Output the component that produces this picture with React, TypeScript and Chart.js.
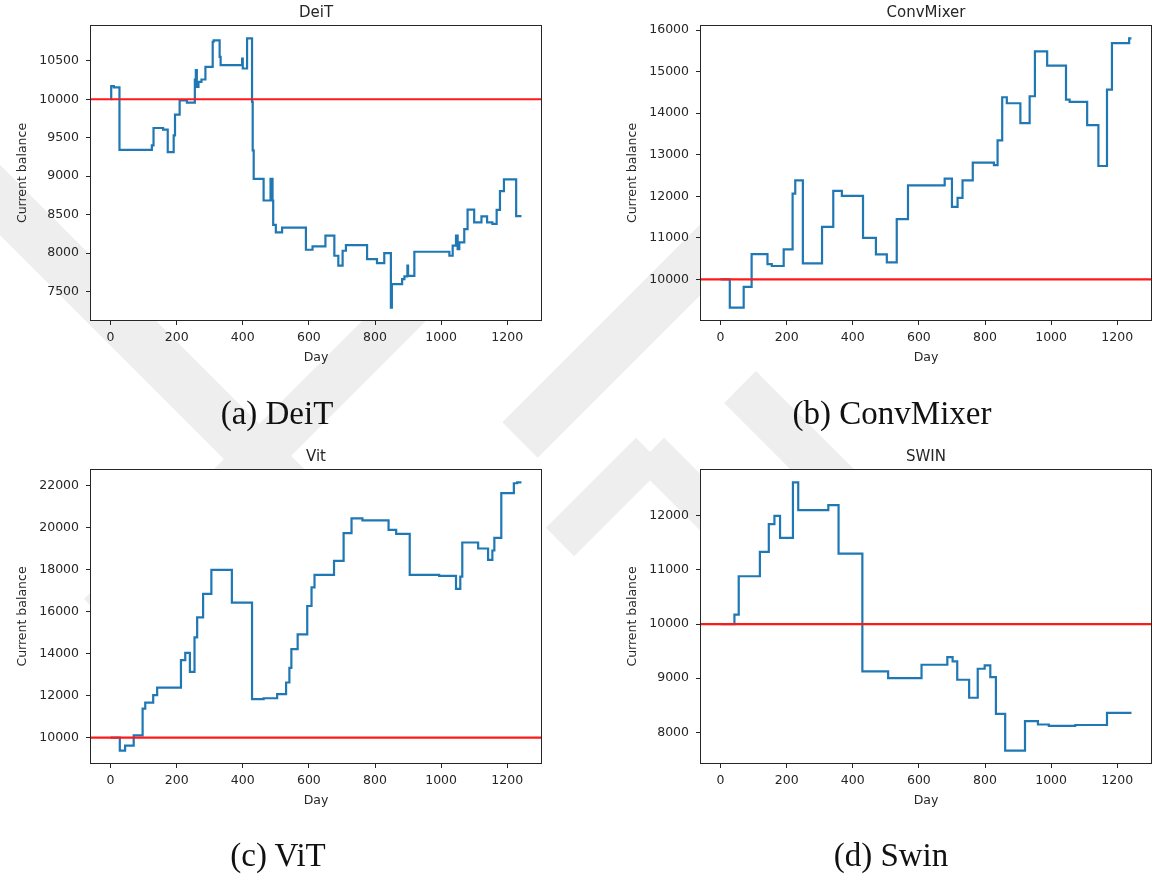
import React, { useEffect, useRef } from "react";
import { Chart, registerables } from "chart.js";

Chart.register(...registerables);

// ---------------- data ----------------
const dayTicks = [0, 200, 400, 600, 800, 1000, 1200];
const startBalance = 10000;

const deitDays = [0, 2, 10, 27, 125, 130, 159, 173, 191, 195, 209, 231, 255, 258, 261, 266, 275, 287, 309, 312, 330, 333, 398, 400, 413, 428, 430, 433, 463, 484, 486, 488, 490, 492, 500, 519, 591, 611, 650, 677, 689, 702, 712, 776, 806, 828, 848, 851, 882, 889, 898, 900, 919, 1025, 1035, 1045, 1050, 1055, 1070, 1080, 1100, 1122, 1139, 1155, 1168, 1178, 1190, 1227, 1243];
const deitBalance = [10000, 10170, 10155, 9343, 9400, 9626, 9604, 9313, 9530, 9800, 9985, 9957, 10257, 10378, 10161, 10226, 10257, 10422, 10748, 10765, 10552, 10443, 10530, 10400, 10791, 9965, 9335, 8965, 8683, 8965, 8683, 8965, 8683, 8365, 8270, 8330, 8043, 8087, 8226, 7965, 7835, 8030, 8104, 7922, 7870, 8000, 7291, 7596, 7661, 7696, 7835, 7704, 8017, 7965, 8096, 8226, 8052, 8139, 8310, 8565, 8400, 8478, 8400, 8378, 8561, 8804, 8957, 8480, 8480];
const deitTicks = [7500, 8000, 8500, 9000, 9500, 10000, 10500];

const convDays = [0, 28, 70, 94, 142, 155, 191, 218, 226, 249, 307, 341, 367, 431, 470, 503, 533, 567, 678, 700, 717, 732, 763, 827, 838, 852, 866, 907, 935, 951, 988, 1045, 1056, 1109, 1143, 1169, 1184, 1236, 1243];
const convBalance = [10000, 9320, 9820, 10608, 10368, 10320, 10720, 12064, 12384, 10384, 11264, 12128, 12008, 11000, 10600, 10408, 11448, 12264, 12424, 11744, 11960, 12384, 12808, 12750, 13344, 14384, 14240, 13760, 14408, 15488, 15144, 14328, 14272, 13712, 12728, 14568, 15688, 15800, 15800];
const convTicks = [10000, 11000, 12000, 13000, 14000, 15000, 16000];

const vitDays = [0, 28, 44, 70, 97, 105, 129, 141, 213, 226, 240, 254, 262, 280, 305, 367, 428, 463, 504, 531, 541, 547, 566, 595, 608, 617, 676, 705, 729, 762, 841, 864, 905, 994, 1045, 1058, 1064, 1112, 1142, 1155, 1161, 1182, 1220, 1230, 1243];
const vitBalance = [10000, 9380, 9614, 10107, 11379, 11665, 12015, 12380, 13684, 14034, 13128, 14766, 15720, 16833, 17977, 16419, 11830, 11870, 12062, 12619, 13318, 14209, 14909, 16260, 17150, 17739, 18407, 19726, 20426, 20330, 19885, 19694, 17739, 17691, 17071, 17659, 19281, 18995, 18454, 18900, 19504, 21634, 22100, 22140, 22140];
const vitTicks = [10000, 12000, 14000, 16000, 18000, 20000, 22000];

const swinDays = [0, 42, 55, 119, 146, 163, 180, 219, 235, 326, 357, 429, 507, 608, 686, 702, 716, 752, 778, 799, 816, 833, 861, 921, 960, 993, 1073, 1169, 1243];
const swinBalance = [10000, 10174, 10883, 11334, 11846, 12000, 11593, 12617, 12105, 12197, 11303, 9125, 9001, 9248, 9390, 9310, 8971, 8638, 9174, 9236, 9020, 8341, 7662, 8205, 8144, 8119, 8135, 8360, 8360];
const swinTicks = [8000, 9000, 10000, 11000, 12000];

// ---------------- styling / layout ----------------
const TEXT = "#262626";
const SANS = "'DejaVu Sans', sans-serif";

type Panel = {
  title: string;
  caption: string;
  days: number[];
  balance: number[];
  yTicks: number[];
  left: number;
  top: number;
  width: number;
  height: number;
  padRight: number;
  padBottom: number;
  capX: number;
  capY: number;
};

const panels: Panel[] = [
  { title: "DeiT", caption: "(a) DeiT", days: deitDays, balance: deitBalance, yTicks: deitTicks, left: 0, top: 0, width: 552, height: 380, padRight: 10, padBottom: 13, capX: 277, capY: 397 },
  { title: "ConvMixer", caption: "(b) ConvMixer", days: convDays, balance: convBalance, yTicks: convTicks, left: 610, top: 0, width: 545, height: 380, padRight: 3, padBottom: 13, capX: 892, capY: 397 },
  { title: "Vit", caption: "(c) ViT", days: vitDays, balance: vitBalance, yTicks: vitTicks, left: 0, top: 444, width: 552, height: 380, padRight: 10, padBottom: 14, capX: 278, capY: 839 },
  { title: "SWIN", caption: "(d) Swin", days: swinDays, balance: swinBalance, yTicks: swinTicks, left: 610, top: 444, width: 545, height: 380, padRight: 3, padBottom: 14, capX: 891, capY: 839 },
];

// decorative background watermark bands: [x1, y1, x2, y2, thickness]
const watermarkBands: number[][] = [
  [-60, 140, 470, 670, 50],
  [100, 615, 470, 245, 45],
  [520, 440, 760, 200, 50],
  [650, 452, 560, 542, 40],
  [650, 452, 740, 542, 40],
  [740, 387, 900, 547, 45],
];

const axesBoxPlugin = {
  id: "axesBox",
  beforeDraw(chart: any) {
    const { ctx, chartArea: a } = chart;
    ctx.save();
    ctx.fillStyle = "#ffffff";
    ctx.fillRect(a.left, a.top, a.right - a.left, a.bottom - a.top);
    ctx.restore();
  },
  afterDraw(chart: any) {
    const { ctx, chartArea: a } = chart;
    ctx.save();
    ctx.strokeStyle = TEXT;
    ctx.lineWidth = 1;
    const l = Math.round(a.left) + 0.5;
    const t = Math.round(a.top) + 0.5;
    const r = Math.round(a.right) - 0.5;
    const b = Math.round(a.bottom) - 0.5;
    ctx.strokeRect(l, t, r - l, b - t);
    ctx.restore();
  },
};

function PanelChart({ p }: { p: Panel }) {
  const ref = useRef<HTMLCanvasElement | null>(null);
  useEffect(() => {
    if (!ref.current) return;
    const last = p.days[p.days.length - 1];
    const xMin = -0.05 * last;
    const xMax = last * 1.05;
    const lo = Math.min(...p.balance, startBalance);
    const hi = Math.max(...p.balance, startBalance);
    const yMin = lo - 0.05 * (hi - lo);
    const yMax = hi + 0.05 * (hi - lo);
    const points = p.days.map((d, i) => ({ x: d, y: p.balance[i] }));
    const tickFont = { family: SANS, size: 12.5 };
    const chart = new Chart(ref.current, {
      type: "line",
      data: {
        datasets: [
          {
            data: [
              { x: xMin, y: startBalance },
              { x: xMax, y: startBalance },
            ],
            borderColor: "#ff1a1a",
            borderWidth: 2.2,
            pointRadius: 0,
            tension: 0,
          },
          {
            data: points,
            borderColor: "#1f77b4",
            borderWidth: 2.2,
            pointRadius: 0,
            stepped: true,
            tension: 0,
          },
        ],
      },
      options: {
        responsive: false,
        animation: false,
        events: [],
        parsing: false,
        layout: { padding: { left: 14, right: p.padRight, top: 3, bottom: p.padBottom } },
        plugins: {
          legend: { display: false },
          tooltip: { enabled: false },
          title: {
            display: true,
            text: p.title,
            fullSize: false,
            color: TEXT,
            font: { family: SANS, size: 15, weight: "normal" },
            padding: { top: 1, bottom: 3 },
          },
        },
        scales: {
          x: {
            type: "linear",
            min: xMin,
            max: xMax,
            afterBuildTicks: (s: any) => {
              s.ticks = dayTicks.map((v) => ({ value: v }));
            },
            afterFit: (s: any) => {
              s.height = 46;
            },
            border: { display: false },
            grid: { display: true, drawOnChartArea: false, drawTicks: true, tickLength: 4, tickColor: TEXT, tickWidth: 1 },
            ticks: { color: TEXT, font: tickFont, padding: 5, autoSkip: false, maxRotation: 0, callback: (v: any) => String(v) },
            title: { display: true, text: "Day", color: TEXT, font: tickFont, padding: { top: 0, bottom: 2 } },
          },
          y: {
            type: "linear",
            min: yMin,
            max: yMax,
            afterBuildTicks: (s: any) => {
              s.ticks = p.yTicks.map((v) => ({ value: v }));
            },
            afterFit: (s: any) => {
              s.width = 76;
            },
            border: { display: false },
            grid: { display: true, drawOnChartArea: false, drawTicks: true, tickLength: 4, tickColor: TEXT, tickWidth: 1 },
            ticks: { color: TEXT, font: tickFont, padding: 7, autoSkip: false, callback: (v: any) => String(v) },
            title: { display: true, text: "Current balance", color: TEXT, font: tickFont, padding: { top: 1, bottom: 0 } },
          },
        },
      },
      plugins: [axesBoxPlugin],
    } as any);
    return () => chart.destroy();
  }, [p]);
  return (
    <canvas
      ref={ref}
      width={p.width}
      height={p.height}
      style={{ position: "absolute", left: p.left, top: p.top, width: p.width, height: p.height }}
    />
  );
}

function Watermark() {
  const ref = useRef<HTMLCanvasElement | null>(null);
  useEffect(() => {
    const c = ref.current;
    if (!c) return;
    const ctx = c.getContext("2d");
    if (!ctx) return;
    ctx.clearRect(0, 0, c.width, c.height);
    ctx.strokeStyle = "#eeeeee";
    ctx.lineCap = "butt";
    for (const [x1, y1, x2, y2, w] of watermarkBands) {
      ctx.lineWidth = w;
      ctx.beginPath();
      ctx.moveTo(x1, y1);
      ctx.lineTo(x2, y2);
      ctx.stroke();
    }
  }, []);
  return <canvas ref={ref} width={1155} height={878} style={{ position: "absolute", left: 0, top: 0 }} />;
}

export default function App() {
  return (
    <div style={{ position: "absolute", left: 0, top: 0, width: 1155, height: 878, background: "#ffffff", overflow: "hidden" }}>
      <Watermark />
      {panels.map((p) => (
        <PanelChart key={p.title} p={p} />
      ))}
      {panels.map((p) => (
        <div
          key={p.caption}
          style={{
            position: "absolute",
            left: p.capX - 150,
            top: p.capY,
            width: 300,
            textAlign: "center",
            fontFamily: "'Liberation Serif', serif",
            fontSize: 33,
            lineHeight: "33px",
            color: "#111",
            whiteSpace: "nowrap",
          }}
        >
          {p.caption}
        </div>
      ))}
    </div>
  );
}
